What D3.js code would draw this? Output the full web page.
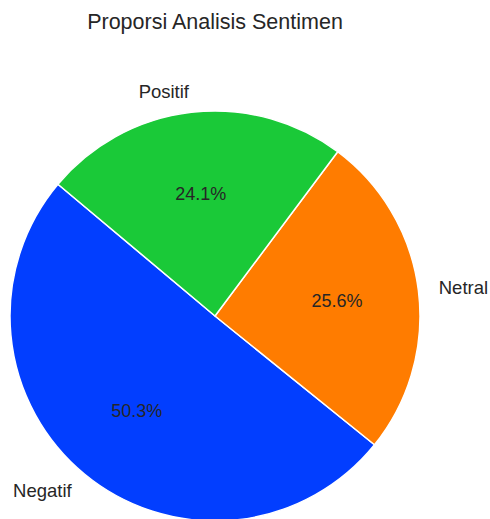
<!DOCTYPE html>
<html>
<head>
<meta charset="utf-8">
<script src="https://cdn.jsdelivr.net/npm/d3@7"></script>
<style>
  html, body { margin: 0; padding: 0; background: #fff; }
  svg { display: block; font-family: "Liberation Sans", Arial, sans-serif; }
</style>
</head>
<body>
<svg id="chart" width="490" height="519"></svg>
<script>
const categories = ["Negatif", "Netral", "Positif"];
const values = [50.3, 25.6, 24.1];
const colors = ["#023eff", "#ff7c00", "#1ac938"];
const title = "Proporsi Analisis Sentimen";
const startAngleDeg = 140; // matplotlib-style start angle, counterclockwise

const svg = d3.select("#chart");
const cx = 215, cy = 316, r = 205;
const textColor = "#262626";

const startD3 = (90 - startAngleDeg) * Math.PI / 180;
const pie = d3.pie().sort(null).value(d => d.v)
  .startAngle(startD3).endAngle(startD3 - 2 * Math.PI);
const data = categories.map((c, i) => ({ c, v: values[i], col: colors[i] }));
const arcs = pie(data);

const arc = d3.arc().innerRadius(0).outerRadius(r);
const g = svg.append("g").attr("transform", `translate(${cx},${cy})`);

g.selectAll("path").data(arcs).enter().append("path")
  .attr("d", arc)
  .attr("fill", d => d.data.col)
  .attr("stroke", "#ffffff")
  .attr("stroke-width", 1.5)
  .attr("stroke-linejoin", "round");

const total = d3.sum(values);
function mid(d) { return (d.startAngle + d.endAngle) / 2; }

g.selectAll("text.lab").data(arcs).enter().append("text")
  .attr("class", "lab")
  .attr("x", d => 1.1 * r * Math.sin(mid(d)))
  .attr("y", d => -1.1 * r * Math.cos(mid(d)))
  .attr("dy", "0.35em")
  .attr("text-anchor", d => Math.sin(mid(d)) < 0 ? "end" : "start")
  .attr("font-size", 18.5)
  .attr("fill", textColor)
  .text(d => d.data.c);

g.selectAll("text.pct").data(arcs).enter().append("text")
  .attr("class", "pct")
  .attr("x", d => 0.6 * r * Math.sin(mid(d)))
  .attr("y", d => -0.6 * r * Math.cos(mid(d)))
  .attr("dy", "0.35em")
  .attr("text-anchor", "middle")
  .attr("font-size", 18)
  .attr("fill", textColor)
  .text(d => (d.data.v / total * 100).toFixed(1) + "%");

svg.append("text")
  .attr("x", 215)
  .attr("y", 21)
  .attr("dy", "0.35em")
  .attr("text-anchor", "middle")
  .attr("font-size", 21.5)
  .attr("fill", textColor)
  .text(title);
</script>
</body>
</html>
